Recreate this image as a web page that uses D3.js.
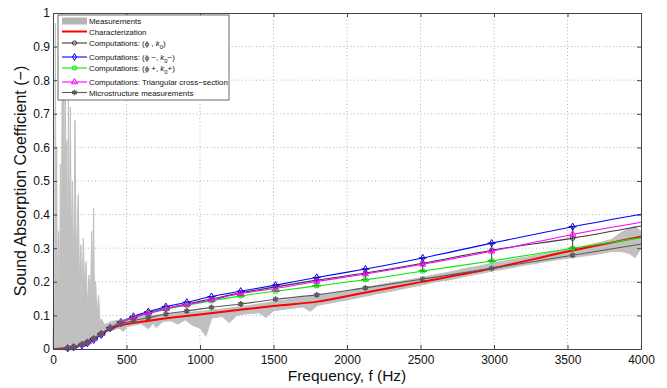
<!DOCTYPE html>
<html>
<head>
<meta charset="utf-8">
<script src="https://cdn.jsdelivr.net/npm/d3@7"></script>
<style>
  body { margin: 0; background: #fff; }
  text { font-family: "Liberation Sans", Arial, sans-serif; }
</style>
</head>
<body>
<div id="chart"></div>
<script>
const xTicks = [0, 500, 1000, 1500, 2000, 2500, 3000, 3500, 4000];
const yTicks = [0, 0.1, 0.2, 0.3, 0.4, 0.5, 0.6, 0.7, 0.8, 0.9, 1];

// frequencies of the computed points (markers), plus line end points
const markerFreq = [100, 140, 197, 234, 277, 329, 390, 462, 547, 648, 768, 910, 1078, 1277, 1514, 1794, 2125, 2515, 2984, 3535];
const lineFreq = [0, ...markerFreq, 4000];

const compNominal = [0, 0.003, 0.006, 0.013, 0.020, 0.030, 0.045, 0.063, 0.079, 0.094, 0.107, 0.121, 0.134, 0.149, 0.167, 0.185, 0.205, 0.226, 0.255, 0.294, 0.330, 0.366];
const compMinus   = [0, 0.002, 0.005, 0.011, 0.017, 0.027, 0.042, 0.062, 0.080, 0.097, 0.111, 0.126, 0.139, 0.156, 0.172, 0.190, 0.213, 0.238, 0.271, 0.315, 0.364, 0.401];
const compPlus    = [0, 0.003, 0.006, 0.014, 0.021, 0.031, 0.046, 0.064, 0.080, 0.094, 0.106, 0.118, 0.130, 0.143, 0.158, 0.172, 0.188, 0.206, 0.232, 0.262, 0.300, 0.331];
const compTriang  = [0, 0.003, 0.006, 0.013, 0.020, 0.030, 0.045, 0.063, 0.079, 0.094, 0.106, 0.120, 0.132, 0.146, 0.165, 0.180, 0.201, 0.223, 0.252, 0.291, 0.341, 0.377];
const microMeas   = [0, 0.003, 0.006, 0.013, 0.020, 0.031, 0.046, 0.062, 0.074, 0.084, 0.093, 0.104, 0.113, 0.124, 0.134, 0.148, 0.161, 0.182, 0.208, 0.240, 0.279, 0.312];

const charFreq = [0, 100, 200, 300, 400, 450, 500, 600, 700, 800, 1000, 1200, 1500, 1800, 2100, 2500, 3000, 3500, 4000];
const charValue = [0, 0.003, 0.013, 0.037, 0.062, 0.069, 0.074, 0.081, 0.087, 0.093, 0.103, 0.113, 0.128, 0.141, 0.166, 0.199, 0.241, 0.290, 0.334];

// measured absorption: [frequency, lower envelope, upper envelope]
const measured = [
  [0, 0, 0.01], [6, 0, 0.15], [11, 0, 0.05], [16, 0, 0.97], [20, 0, 0.25], [25, 0, 0.6], [30, 0, 0.1],
  [38, 0, 0.35], [44, 0, 0.12], [50, 0, 0.55], [57, 0, 0.2], [63, 0, 1.0], [68, 0, 0.5], [73, 0, 0.98],
  [78, 0, 0.35], [84, 0, 0.85], [89, 0, 0.3], [94, 0, 0.62], [99, 0, 0.25], [105, 0, 0.74], [111, 0, 0.28],
  [118, 0, 0.72], [124, 0, 0.3], [132, 0, 0.5], [140, 0.002, 0.22], [150, 0.003, 0.68], [158, 0.004, 0.25],
  [166, 0.006, 0.38], [172, 0.006, 0.46], [180, 0.008, 0.2], [190, 0.01, 0.31], [198, 0.01, 0.15],
  [206, 0.012, 0.33], [215, 0.015, 0.18], [225, 0.017, 0.26], [235, 0.02, 0.12], [245, 0.022, 0.22],
  [255, 0.025, 0.14], [263, 0.028, 0.35], [270, 0.03, 0.18], [276, 0.03, 0.42], [282, 0.032, 0.14],
  [290, 0.034, 0.2], [300, 0.037, 0.1], [310, 0.04, 0.16], [320, 0.042, 0.08], [330, 0.045, 0.09],
  [350, 0.048, 0.072], [400, 0.056, 0.082], [450, 0.062, 0.086], [480, 0.052, 0.088], [500, 0.066, 0.088],
  [550, 0.071, 0.092], [600, 0.075, 0.097], [650, 0.06, 0.099], [680, 0.077, 0.1], [700, 0.064, 0.101],
  [750, 0.082, 0.103], [800, 0.084, 0.105], [850, 0.074, 0.107], [900, 0.087, 0.109], [950, 0.07, 0.11],
  [1000, 0.062, 0.112], [1040, 0.038, 0.114], [1080, 0.092, 0.116], [1150, 0.097, 0.119], [1200, 0.078, 0.122],
  [1250, 0.1, 0.125], [1300, 0.104, 0.127], [1400, 0.108, 0.134], [1450, 0.094, 0.137], [1500, 0.114, 0.141],
  [1600, 0.12, 0.147], [1700, 0.125, 0.153], [1750, 0.112, 0.156], [1800, 0.13, 0.16], [1900, 0.138, 0.166],
  [2000, 0.146, 0.173], [2100, 0.155, 0.181], [2200, 0.164, 0.189], [2300, 0.172, 0.197], [2400, 0.181, 0.204],
  [2500, 0.19, 0.212], [2600, 0.2, 0.221], [2700, 0.206, 0.229], [2800, 0.216, 0.239], [2900, 0.224, 0.247],
  [3000, 0.233, 0.256], [3100, 0.24, 0.264], [3200, 0.249, 0.272], [3300, 0.256, 0.28], [3400, 0.264, 0.289],
  [3500, 0.27, 0.297], [3600, 0.276, 0.305], [3700, 0.282, 0.315], [3800, 0.29, 0.326], [3870, 0.29, 0.348],
  [3920, 0.284, 0.358], [3960, 0.272, 0.365], [4000, 0.3, 0.35]
];

const W = 667, H = 388;
const margin = { left: 53, top: 13, right: 26, bottom: 39 };
const width = W - margin.left - margin.right;
const height = H - margin.top - margin.bottom;

const svg = d3.select("#chart").append("svg").attr("width", W).attr("height", H);
const plot = svg.append("g").attr("transform", "translate(" + margin.left + "," + margin.top + ")");

const x = d3.scaleLinear().domain([0, 4000]).range([0, width]);
const y = d3.scaleLinear().domain([0, 1]).range([height, 0]);

// dotted grid
plot.append("g").selectAll("line").data(xTicks.slice(1, -1)).enter().append("line")
    .attr("x1", d => x(d)).attr("x2", d => x(d)).attr("y1", 0).attr("y2", height)
    .attr("stroke", "#b4b4b4").attr("stroke-dasharray", "1,2.5");
plot.append("g").selectAll("line").data(yTicks.slice(1, -1)).enter().append("line")
    .attr("y1", d => y(d)).attr("y2", d => y(d)).attr("x1", 0).attr("x2", width)
    .attr("stroke", "#b4b4b4").attr("stroke-dasharray", "1,2.5");

// measurements
plot.append("path")
    .datum(measured)
    .attr("fill", "#c0c0c0")
    .attr("stroke", "#c0c0c0")
    .attr("stroke-width", 1)
    .attr("d", d3.area().x(d => x(d[0])).y0(d => y(d[1])).y1(d => y(d[2])));

function series(freqs, values) {
    return freqs.map((f, i) => [f, values[i]]);
}
const line = d3.line().x(d => x(d[0])).y(d => y(d[1])).curve(d3.curveMonotoneX);

plot.append("path").datum(series(charFreq, charValue))
    .attr("fill", "none").attr("stroke", "#ff0000").attr("stroke-width", 2).attr("d", line);

const computed = [
    { values: compNominal, color: "#3a3a3a", symbol: d3.symbolCircle, size: 16 },
    { values: compMinus, color: "#0000ff", symbol: d3.symbolDiamond, size: 15 },
    { values: compPlus, color: "#00ee00", symbol: d3.symbolSquare, size: 14 },
    { values: compTriang, color: "#ff00ff", symbol: d3.symbolTriangle, size: 17 },
    { values: microMeas, color: "#5a5a5a", symbol: d3.symbolAsterisk, size: 24 }
];

// error bars of the nominal computation, from (phi+, k0+) to (phi-, k0-)
const bars = plot.append("g").selectAll("g").data(markerFreq).enter().append("g");
bars.append("line")
    .attr("x1", d => x(d)).attr("x2", d => x(d))
    .attr("y1", (d, i) => y(compPlus[i + 1])).attr("y2", (d, i) => y(compMinus[i + 1]))
    .attr("stroke", "#3a3a3a");
bars.selectAll("line.cap").data((d, i) => [[d, compPlus[i + 1]], [d, compMinus[i + 1]]]).enter().append("line")
    .attr("class", "cap")
    .attr("x1", d => x(d[0]) - 4).attr("x2", d => x(d[0]) + 4)
    .attr("y1", d => y(d[1])).attr("y2", d => y(d[1]))
    .attr("stroke", "#111").attr("stroke-width", 1.2);

for (let s of computed) {
    const pts = series(lineFreq, s.values);
    plot.append("path").datum(pts)
        .attr("fill", "none").attr("stroke", s.color).attr("stroke-width", 1.1).attr("d", line);
    plot.append("g").selectAll("path").data(pts.slice(1, -1)).enter().append("path")
        .attr("transform", d => "translate(" + x(d[0]) + "," + y(d[1]) + ")")
        .attr("d", d3.symbol(s.symbol, s.size))
        .attr("fill", s.symbol === d3.symbolAsterisk ? s.color : "none")
        .attr("stroke", s.color)
        .attr("stroke-width", s.symbol === d3.symbolAsterisk ? 1.6 : 1);
}

// axes box with inward ticks
const axisColor = "#444";
plot.append("g").attr("transform", "translate(0," + height + ")")
    .call(d3.axisBottom(x).tickValues(xTicks).tickSizeInner(-4).tickSizeOuter(0).tickPadding(6).tickFormat(d3.format("d")));
plot.append("g")
    .call(d3.axisLeft(y).tickValues(yTicks).tickSizeInner(-4).tickSizeOuter(0).tickPadding(3).tickFormat(d => String(+d.toFixed(1))));
plot.append("g")
    .call(d3.axisTop(x).tickValues(xTicks).tickSizeInner(-4).tickSizeOuter(0).tickFormat(""));
plot.append("g").attr("transform", "translate(" + width + ",0)")
    .call(d3.axisRight(y).tickValues(yTicks).tickSizeInner(-4).tickSizeOuter(0).tickFormat(""));
plot.selectAll(".domain, .tick line").attr("stroke", axisColor);
plot.selectAll(".tick text").attr("font-size", 12).attr("fill", "#111")
    .attr("font-family", "'Liberation Sans', Arial, sans-serif");

svg.append("text")
    .attr("x", margin.left + width / 2).attr("y", 381)
    .attr("text-anchor", "middle").attr("font-size", 15.5).attr("fill", "#111")
    .text("Frequency, f (Hz)");
svg.append("text")
    .attr("transform", "translate(26," + (margin.top + height / 2) + ") rotate(-90)")
    .attr("text-anchor", "middle").attr("font-size", 16).attr("fill", "#111")
    .text("Sound Absorption Coefficient (\u2212)");

// legend
const legend = svg.append("g");
legend.append("rect")
    .attr("x", 58).attr("y", 15).attr("width", 171).attr("height", 85)
    .attr("fill", "#fff").attr("stroke", "#444").attr("stroke-width", 0.8);

const legendRows = [
    { y: 21, label: ["Measurements"], kind: "patch" },
    { y: 31.5, label: ["Characterization"], color: "#ff0000", width: 2 },
    { y: 43, label: ["Computations: (\u03d5 , ", "k", "0", ")"], color: "#3a3a3a", symbol: d3.symbolCircle, size: 14 },
    { y: 57, label: ["Computations: (\u03d5 \u2212, ", "k", "0", "\u2212)"], color: "#0000ff", symbol: d3.symbolDiamond, size: 14 },
    { y: 68, label: ["Computations: (\u03d5 +, ", "k", "0", "+)"], color: "#00ee00", symbol: d3.symbolSquare, size: 13 },
    { y: 82, label: ["Computations: Triangular cross\u2212section"], color: "#ff00ff", symbol: d3.symbolTriangle, size: 16 },
    { y: 92.5, label: ["Microstructure measurements"], color: "#5a5a5a", symbol: d3.symbolAsterisk, size: 20 }
];

for (let row of legendRows) {
    if (row.kind === "patch") {
        legend.append("rect").attr("x", 62).attr("y", row.y - 3.5).attr("width", 25).attr("height", 7).attr("fill", "#b5b5b5");
    } else {
        legend.append("line").attr("x1", 62).attr("x2", 87).attr("y1", row.y).attr("y2", row.y)
            .attr("stroke", row.color).attr("stroke-width", row.width || 1.1);
        if (row.symbol) {
            legend.append("path").attr("transform", "translate(74.5," + row.y + ")")
                .attr("d", d3.symbol(row.symbol, row.size))
                .attr("fill", row.symbol === d3.symbolAsterisk ? row.color : "none")
                .attr("stroke", row.color).attr("stroke-width", row.symbol === d3.symbolAsterisk ? 1.4 : 1);
        }
    }
    const t = legend.append("text").attr("x", 89).attr("y", row.y + 3).attr("font-size", 7.9).attr("fill", "#111");
    if (row.label.length === 1) {
        t.text(row.label[0]);
    } else {
        t.append("tspan").text(row.label[0]);
        t.append("tspan").attr("font-style", "italic").text(row.label[1]);
        t.append("tspan").attr("font-size", 6).attr("dy", 2.5).text(row.label[2]);
        t.append("tspan").attr("dy", -2.5).text(row.label[3]);
    }
}
</script>
</body>
</html>
